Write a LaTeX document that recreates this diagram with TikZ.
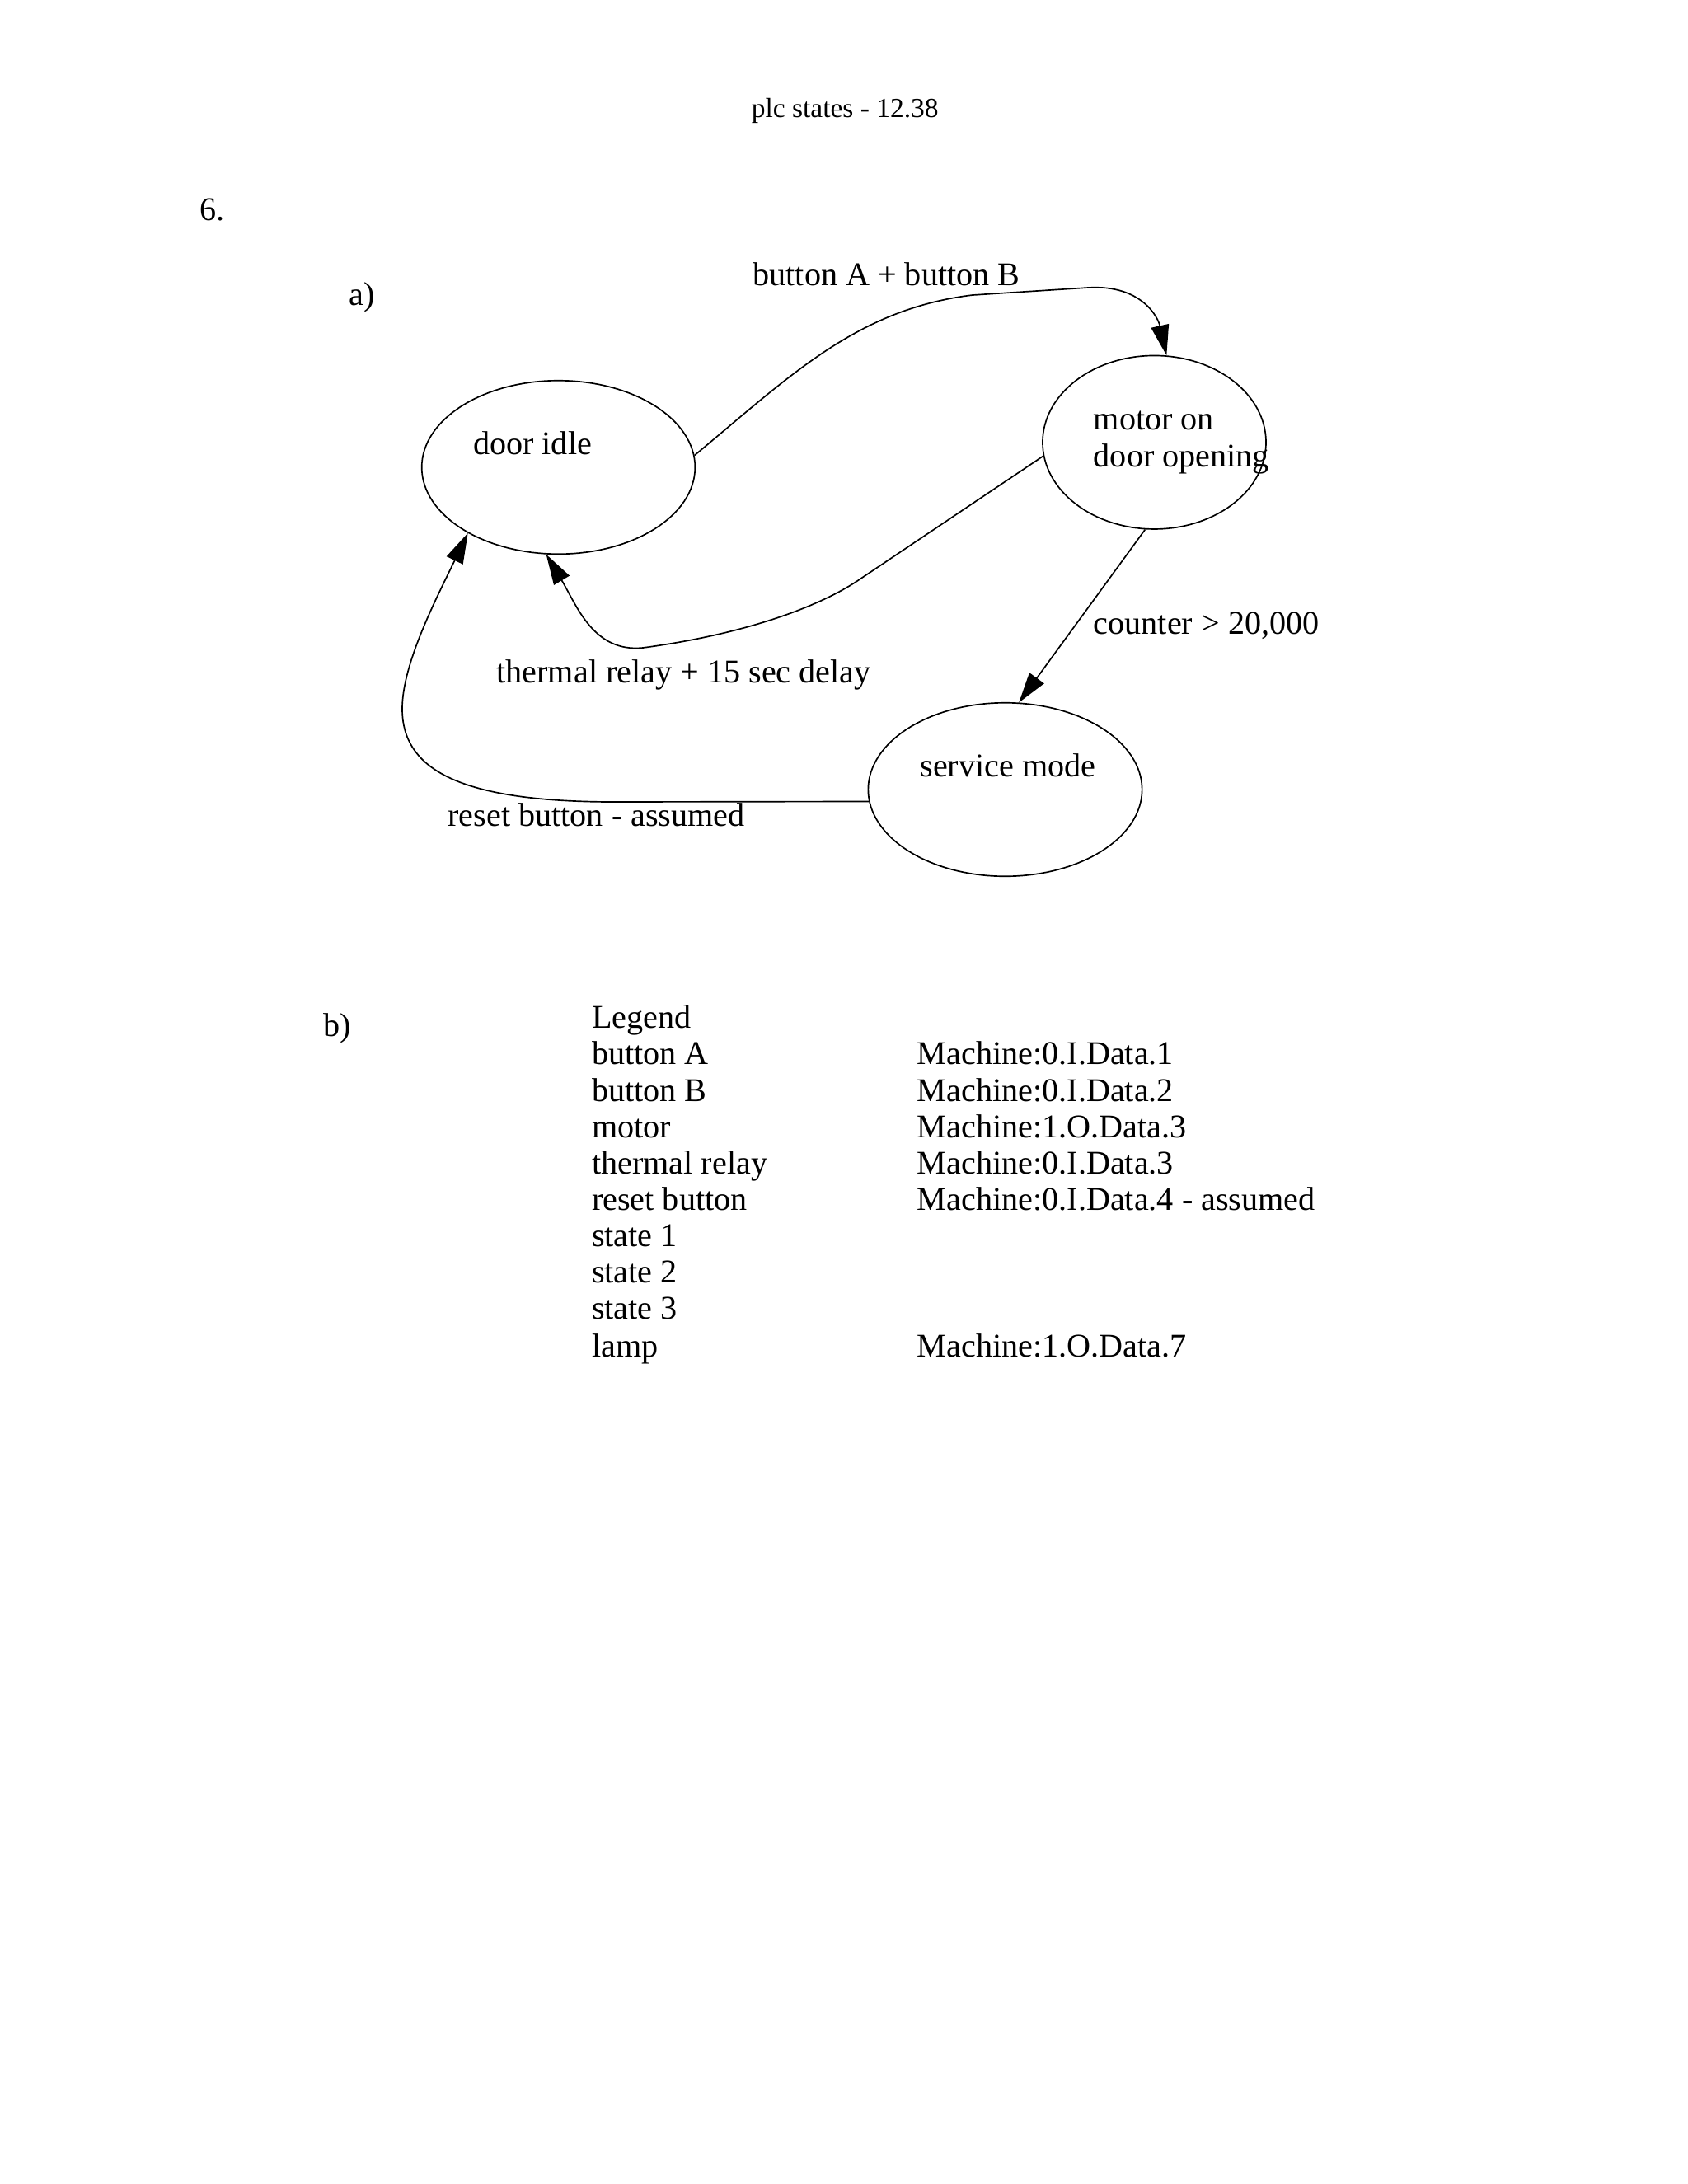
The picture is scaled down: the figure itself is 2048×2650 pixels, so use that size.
\documentclass[tikz,border=0pt]{standalone}
\usepackage{fontspec}
\setmainfont{Liberation Serif}
\usetikzlibrary{shapes.geometric,arrows.meta}

\begin{document}
\begin{tikzpicture}[x=0.29883pt, y=-0.29883pt, line width=0.5pt,
        stnode/.style={draw, ellipse, inner sep=0pt, minimum height=62.9pt},
        txt/.style={anchor=base west, inner sep=0pt, font=\fontsize{12}{14}\selectfont},
        arr/.style={-{Triangle[length=11pt, width=6.5pt]}}]
        \useasboundingbox (0,0) rectangle (2048,2650);
        \node[txt, font=\fontsize{10}{12}\selectfont] (title) at (911, 142.5) {plc states - 12.38};
        \node[txt] (num) at (241.5, 267.5) {6.};
        \node[txt] (parta) at (423, 370) {a)};
        \node[txt] (partb) at (391.5, 1257.5) {b)};

        % states
        \node[stnode, minimum width=99.1pt] (idle) at (677.5, 567) {};
        \node[stnode, minimum width=81pt] (motor) at (1400.5, 536.7) {};
        \node[stnode, minimum width=99.3pt] (service) at (1219.5, 958) {};
        \node[txt] (idletxt) at (573.3, 551.7) {door idle};
        \node[txt] (motortxt) at (1326, 521) {motor on};
        \node[txt] (motortxtb) at (1326, 566) {door opening};
        \node[txt] (servicetxt) at (1115.7, 942.3) {service mode};

        % transitions
        \draw[arr] (idle.5) .. controls (960,455) and (1040,375) .. (1180,358) -- (1320,349)
            .. controls (1385,345) and (1405,385) .. (motor.82);
        \draw[arr] (motor.187) -- (1040,705) .. controls (990,738) and (900,770) .. (780,786)
            .. controls (720,792) and (700,735) .. (idle.262);
        \draw[arr] (motor.264) -- (service.81);
        \draw[arr] (service.185) -- (740,973) .. controls (560,972) and (488,935) .. (488,860)
            .. controls (488,805) and (530,725) .. (idle.216);
        \node[txt] (lblab) at (912.7, 346.7) {button A + button B};
        \node[txt] (lbltherm) at (601.7, 828.3) {thermal relay + 15 sec delay};
        \node[txt] (lblcount) at (1326, 769) {counter > 20,000};
        \node[txt] (lblreset) at (542.7, 1002.7) {reset button - assumed};

        % legend
        \node[txt] (legend) at (717.3, 1247.3) {Legend};
        \node[txt] (btna) at (717.3, 1291.7) {button A};
        \node[txt] (btnb) at (717.3, 1336) {button B};
        \node[txt] (mot) at (717.3, 1380) {motor};
        \node[txt] (therm) at (717.3, 1424) {thermal relay};
        \node[txt] (rst) at (717.3, 1468.3) {reset button};
        \node[txt] (sta) at (717.3, 1512.7) {state 1};
        \node[txt] (stb) at (717.3, 1556.7) {state 2};
        \node[txt] (stc) at (717.3, 1600.7) {state 3};
        \node[txt] (lamp) at (717.3, 1646) {lamp};
        \node[txt] (btnaaddr) at (1112, 1291.7) {Machine:0.I.Data.1};
        \node[txt] (btnbaddr) at (1112, 1336) {Machine:0.I.Data.2};
        \node[txt] (motaddr) at (1112, 1380) {Machine:1.O.Data.3};
        \node[txt] (thermaddr) at (1112, 1424) {Machine:0.I.Data.3};
        \node[txt] (rstaddr) at (1112, 1468.3) {Machine:0.I.Data.4 - assumed};
        \node[txt] (lampaddr) at (1112, 1646) {Machine:1.O.Data.7};
    \end{tikzpicture}
\end{document}
